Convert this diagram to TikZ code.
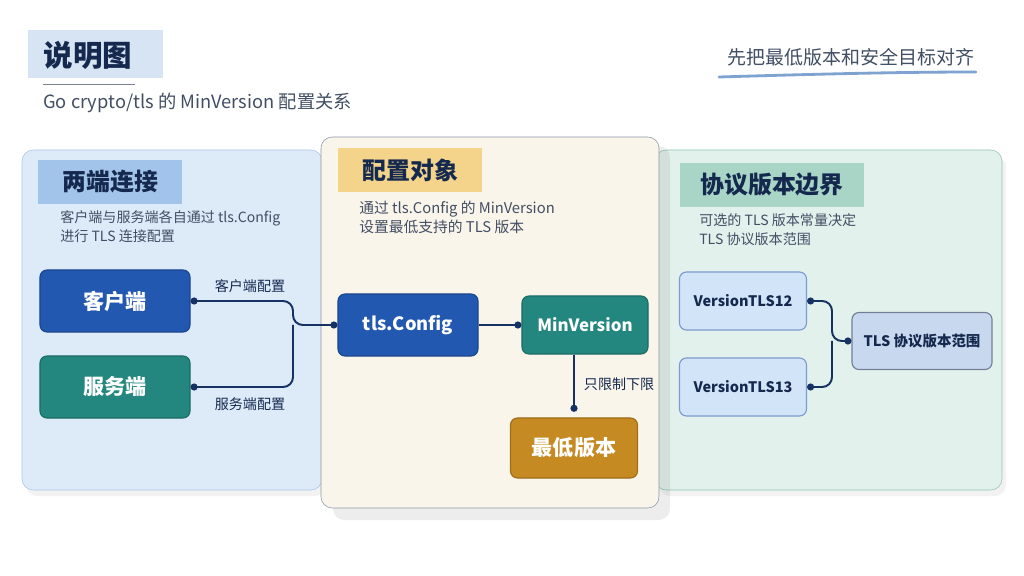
\documentclass[tikz,border=0pt]{standalone}
\usepackage{fontspec}
\setmainfont{Noto Sans CJK SC}
\usetikzlibrary{arrows.meta}
\definecolor{navy}{RGB}{21,41,79}
\definecolor{slate}{RGB}{66,78,100}
\definecolor{titlebg}{RGB}{214,228,244}
\definecolor{pblue}{RGB}{221,234,248}
\definecolor{pblueline}{RGB}{168,198,232}
\definecolor{pcream}{RGB}{250,245,234}
\definecolor{pcreamline}{RGB}{140,151,168}
\definecolor{pgreen}{RGB}{226,241,236}
\definecolor{pgreenline}{RGB}{143,196,181}
\definecolor{tapeblue}{RGB}{163,196,234}
\definecolor{tapeyellow}{RGB}{243,212,138}
\definecolor{tapegreen}{RGB}{168,213,198}
\definecolor{nodeblue}{RGB}{35,88,176}
\definecolor{nodeteal}{RGB}{36,135,127}
\definecolor{nodegold}{RGB}{198,138,34}
\definecolor{lightbox}{RGB}{210,229,248}
\definecolor{rangebox}{RGB}{200,216,238}
\definecolor{linkcol}{RGB}{22,50,100}
\definecolor{penblue}{RGB}{127,163,209}
\tikzset{
	box/.style={draw=#1!80!black, fill=#1, rounded corners=5pt, line width=0.8pt, text=white,
		font=\fontsize{15}{17}\selectfont\bfseries, minimum height=1.55cm},
	softbox/.style={draw=#1, fill=lightbox, rounded corners=5pt, line width=0.8pt, text=navy,
		font=\fontsize{10.3}{12}\selectfont\bfseries, minimum width=3.175cm, minimum height=1.45cm},
	tape/.style={fill=#1, text=navy, anchor=west, inner xsep=0.6cm, minimum height=1.08cm,
		font=\fontsize{17}{19}\selectfont\bfseries},
	desc/.style={anchor=north west, align=left, text=slate, font=\fontsize{10}{13.5}\selectfont, inner sep=0pt},
	link/.style={draw=linkcol, line width=1.4pt, rounded corners=7pt},
	lbl/.style={text=navy, font=\fontsize{10}{12}\selectfont},
	dots/.style={{Circle[length=5pt]}-{Circle[length=5pt]}},
}

\begin{document}
\begin{tikzpicture}[x=0.025cm, y=-0.025cm]
	\useasboundingbox (0,0) rectangle (1024,576);
	\fill[white] (0,0) rectangle (1024,576);

	% heading
	\fill[titlebg] (28,30) rectangle (163,78);
	\node[text=navy, font=\fontsize{21}{23}\selectfont\bfseries] (title) at (88,55) {说明图};
	\draw[slate!70, line width=0.7pt] (43,84) -- (135,84);
	\node[anchor=west, text=slate, font=\fontsize{13}{15}\selectfont, inner sep=0pt] (sub) at (43,103) {Go crypto/tls 的 MinVersion 配置关系};
	\node[anchor=west, text=slate, font=\fontsize{13.5}{15}\selectfont, inner sep=0pt] (motto) at (727,57) {先把最低版本和安全目标对齐};
	\draw[penblue, line width=2pt, line cap=round] (719,77) .. controls (820,74) and (900,72) .. (976,72);

	% panels
	\fill[black, opacity=0.05, rounded corners=8pt] (26,156) rectangle (326,496);
	\fill[black, opacity=0.05, rounded corners=8pt] (659,156) rectangle (1006,496);
	\draw[pblueline, fill=pblue, rounded corners=8pt] (22,150) rectangle (322,490);
	\draw[pgreenline, fill=pgreen, rounded corners=8pt] (655,150) rectangle (1002,490);
	\fill[black, opacity=0.07, rounded corners=8pt] (333,146) rectangle (670,520);
	\draw[pcreamline, fill=pcream, rounded corners=8pt] (321,137) rectangle (659,508);

	\node[tape=tapeblue] (h1) at (38,182) {两端连接};
	\node[tape=tapeyellow] (h2) at (338,170) {配置对象};
	\node[tape=tapegreen, inner xsep=0.5cm] (h3) at (680,185) {协议版本边界};

	\node[desc] (d1) at (60,210) {客户端与服务端各自通过 tls.Config\\进行 TLS 连接配置};
	\node[desc, font=\fontsize{10.5}{13.5}\selectfont] (d2) at (359,201) {通过 tls.Config 的 MinVersion\\设置最低支持的 TLS 版本};
	\node[desc] (d3) at (699,213) {可选的 TLS 版本常量决定\\TLS 协议版本范围};

	% nodes
	\node[box=nodeblue, minimum width=3.75cm] (client) at (115,301) {客户端};
	\node[box=nodeteal, minimum width=3.75cm] (server) at (115,387) {服务端};
	\node[box=nodeblue, minimum width=3.5cm, font=\fontsize{13}{15}\selectfont\bfseries] (cfg) at (408,325) {tls.Config};
	\node[box=nodeteal, minimum width=3.15cm, minimum height=1.45cm, font=\fontsize{12}{14}\selectfont\bfseries] (minv) at (585,325) {MinVersion};
	\node[box=nodegold, minimum width=3.175cm, minimum height=1.5cm] (low) at (574,448) {最低版本};
	\node[softbox=nodeblue!60] (v12) at (743,301) {VersionTLS12};
	\node[softbox=nodeblue!60] (v13) at (743,387) {VersionTLS13};
	\node[softbox=navy!60, fill=rangebox, minimum width=3.5cm, minimum height=1.425cm] (range) at (922,341) {TLS 协议版本范围};

	% links
	\coordinate (busL) at (293,325);
	\coordinate (busR) at (832,341);
	\coordinate (drop) at ([yshift=4pt]low.north);
	\draw[link, dots] (client.east) -| (busL) -- (cfg.west);
	\draw[link, {Circle[length=5pt]}-] (server.east) -| (busL);
	\draw[link, -{Circle[length=5pt]}] (cfg.east) -- (minv.west);
	\draw[link, -{Circle[length=5pt]}] (minv.south -| drop) -- (drop);
	\draw[link, dots] (v12.east) -| (busR) -- (range.west);
	\draw[link, {Circle[length=5pt]}-] (v13.east) -| (busR);

	\node[lbl] (lc) at (250,286) {客户端配置};
	\node[lbl] (ls) at (250,404) {服务端配置};
	\node[lbl, anchor=west] (lm) at (579,384) {只限制下限};
\end{tikzpicture}
\end{document}
